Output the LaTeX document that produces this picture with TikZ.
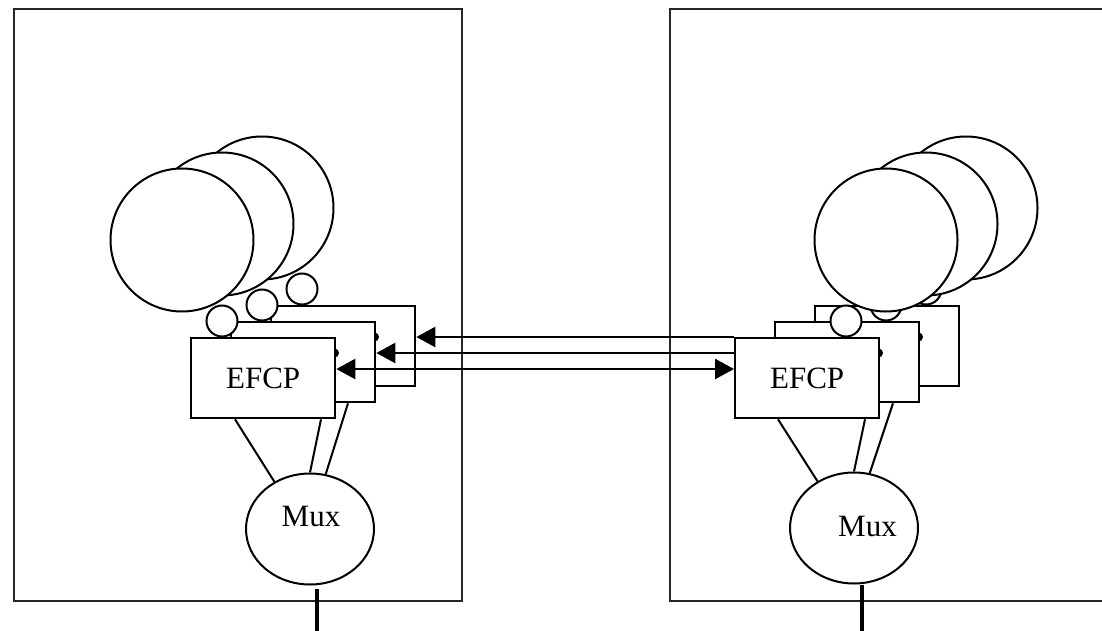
\documentclass[tikz,border=0pt]{standalone}
\usepackage{fontspec}
\setmainfont{Liberation Serif}
\usetikzlibrary{arrows.meta,shapes.geometric,calc}
\begin{document}
\begin{tikzpicture}[x=1pt,y=-1pt,
  frame/.style={draw=black!85,line width=2.6pt},
  efcp/.style={draw,fill=white,line width=2.3pt,minimum width=144pt,minimum height=80pt,inner sep=0pt,anchor=north west,font=\fontsize{31}{36}\selectfont},
  big/.style={draw,fill=white,circle,line width=2pt,minimum size=143pt,inner sep=0pt},
  small/.style={draw,fill=white,circle,line width=2pt,minimum size=31pt,inner sep=0pt},
  dotm/.style={fill=black,circle,minimum size=9pt,inner sep=0pt},
  mux/.style={draw,fill=white,ellipse,line width=2pt,minimum width=128pt,minimum height=111pt,inner sep=0pt},
  lbl/.style={font=\fontsize{31}{36}\selectfont,inner sep=0pt},
  link/.style={line width=2pt},
  port/.style={line width=4pt},
  flow/.style={line width=2.4pt},
  tipr/.style={-{Triangle[length=19pt,width=20pt]}},
  tipb/.style={{Triangle[length=19pt,width=20pt]}-{Triangle[length=19pt,width=20pt]}}
]
\useasboundingbox (0,0) rectangle (1102,631);
% outer frames
\draw[frame] (14,9) rectangle (462,601);
\draw[frame] (670,9) rectangle (1110,601);

% ---------- left unit ----------
\node[efcp] (lB3) at (270,305) {};
\node[dotm] (lD2) at (374.5,337) {};
\node[efcp] (lB2) at (230,321) {};
\node[dotm] (lD1) at (334.5,353) {};
\node[efcp] (lB1) at (190,337) {EFCP};
\node[small] (lS3) at (302,289) {};
\node[small] (lS2) at (262,305) {};
\node[small] (lS1) at (222,321) {};
\node[big] (lC3) at (262,208) {};
\node[big] (lC2) at (222,224) {};
\node[big] (lC1) at (182,240) {};
\node[mux] (lM) at (310,529) {};
\node[lbl] (lMt) at (311,516) {Mux};
\draw[link] ($(lB1.south west)+(45,0)$) -- (lM.127);
\draw[link] ($(lB1.south west)+(131,0)$) -- (lM.90);
\draw[link] ($(lB2.south west)+(118,0)$) -- (lM.74);
\coordinate (lP) at (317,636);
\draw[port] ($(lM.south -| lP)+(0,3)$) -- (lP);

% ---------- right unit ----------
\node[efcp] (rB3) at (814,305) {};
\node[dotm] (rD2) at (918.5,337) {};
\node[efcp] (rB2) at (774,321) {};
\node[dotm] (rD1) at (878.5,353) {};
\node[efcp] (rB1) at (734,337) {EFCP};
\node[small] (rS3) at (926,289) {};
\node[small] (rS2) at (886,305) {};
\node[small] (rS1) at (846,321) {};
\node[big] (rC3) at (966,208) {};
\node[big] (rC2) at (926,224) {};
\node[big] (rC1) at (886,240) {};
\node[mux] (rM) at (854,528) {};
\node[lbl] (rMt) at (867.5,526) {Mux};
\draw[link] ($(rB1.south west)+(44,0)$) -- (rM.128);
\draw[link] ($(rB1.south west)+(131,0)$) -- (rM.90);
\draw[link] ($(rB2.south west)+(119,0)$) -- (rM.74);
\coordinate (rP) at (862,636);
\draw[port] (rM.south -| rP) -- (rP);

% ---------- flows ----------
\draw[flow,tipr] (rB1.north west) -- ($(lB3.north east)+(0,32)$);
\draw[flow,tipr] ($(rB1.north west)+(0,16)$) -- ($(lB2.north east)+(0,32)$);
\draw[flow,tipb] ($(lB1.north east)+(0,32)$) -- ($(rB1.north west)+(0,32)$);
\end{tikzpicture}
\end{document}
